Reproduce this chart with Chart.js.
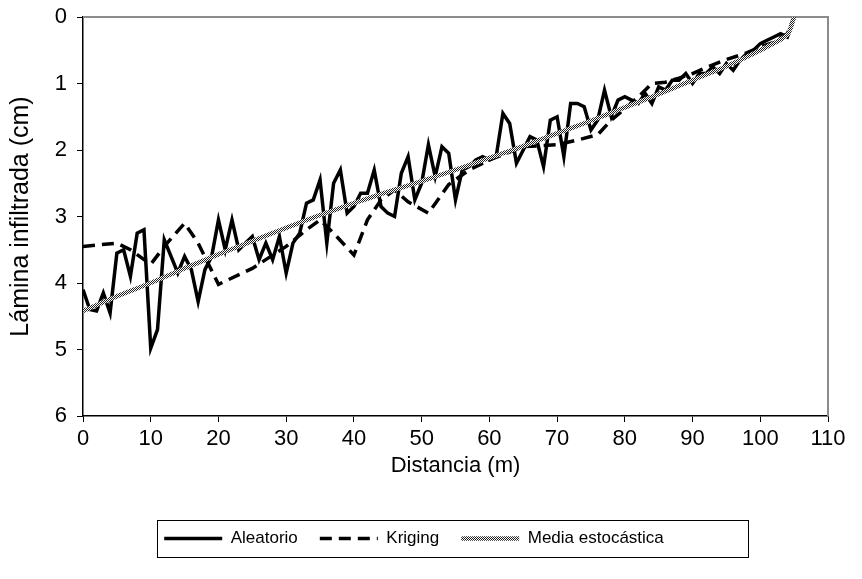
<!DOCTYPE html>
<html>
<head>
<meta charset="utf-8">
<script src="https://cdn.jsdelivr.net/npm/chart.js@4/dist/chart.umd.min.js"></script>
<style>
html,body{margin:0;padding:0;background:#fff;}
#wrap{width:862px;height:579px;position:relative;}
</style>
</head>
<body>
<div id="wrap"><canvas id="c" width="862" height="579"></canvas></div>
<script>
// ---- data ----
const aleatorioDist = [0,1,2,3,4,5,6,7,8,9,10,11,12,13,14,15,16,17,18,19,20,21,22,23,24,25,26,27,28,29,30,31,32,33,34,35,36,37,38,39,40,41,42,43,44,45,46,47,48,49,50,51,52,53,54,55,56,57,58,59,60,61,62,63,64,65,66,67,68,69,70,71,72,73,74,75,76,77,78,79,80,81,82,83,84,85,86,87,88,89,90,91,92,93,94,95,96,97,98,99,100,101,102,103,104,105];
const aleatorioVals = [4.1,4.4,4.42,4.15,4.45,3.55,3.5,3.9,3.25,3.2,4.98,4.7,3.35,3.6,3.85,3.6,3.8,4.28,3.8,3.6,3.05,3.5,3.05,3.5,3.4,3.3,3.65,3.4,3.65,3.3,3.85,3.4,3.25,2.8,2.75,2.45,3.4,2.5,2.3,2.95,2.85,2.65,2.65,2.3,2.85,2.95,3.0,2.35,2.1,2.75,2.5,1.92,2.4,1.95,2.05,2.75,2.3,2.25,2.15,2.1,2.15,2.1,1.45,1.6,2.2,2.0,1.8,1.85,2.25,1.55,1.5,2.1,1.3,1.3,1.35,1.7,1.55,1.1,1.5,1.25,1.2,1.25,1.3,1.15,1.3,1.05,1.1,0.95,0.95,0.85,1.0,0.85,0.85,0.75,0.85,0.7,0.8,0.65,0.55,0.5,0.4,0.35,0.3,0.25,0.3,0.0];

const krigingDist = [0,5,7,10,12,15,17,20,25,30,33,35,37,40,42,44,46,48,51,54,57,60,65,70,73,76,78,80,82,84,86,88,90,92,95,98,100,102,104,105];
const krigingVals = [3.45,3.4,3.5,3.72,3.45,3.1,3.4,4.02,3.78,3.45,3.2,3.05,3.25,3.58,3.05,2.75,2.6,2.78,2.95,2.52,2.3,2.15,1.95,1.92,1.85,1.77,1.55,1.38,1.2,1.0,0.98,0.92,0.85,0.76,0.64,0.54,0.45,0.38,0.25,0.0];

const mediaDist = [0,5,10,15,20,25,30,35,40,45,50,55,60,65,70,75,80,85,90,95,100,104,105];
const mediaVals = [4.42,4.2,4.0,3.78,3.57,3.37,3.17,2.98,2.8,2.63,2.47,2.3,2.12,1.94,1.75,1.56,1.36,1.16,0.95,0.74,0.5,0.27,0.0];

const xTicks = [0,10,20,30,40,50,60,70,80,90,100,110];
const yTicks = [0,1,2,3,4,5,6];
const seriesNames = ['Aleatorio','Kriging','Media estocástica'];
const xTitle = 'Distancia (m)';
const yTitle = 'Lámina infiltrada (cm)';

function pts(xs, ys){ return xs.map((x,i)=>({x:x, y:ys[i]})); }

// checkered pattern for the stochastic mean line
function makePattern(){
  const p = document.createElement('canvas');
  p.width = 2; p.height = 2;
  const g = p.getContext('2d');
  g.fillStyle = '#ffffff'; g.fillRect(0,0,2,2);
  g.fillStyle = '#202020'; g.fillRect(0,0,1,1); g.fillRect(1,1,1,1);
  return g.createPattern(p,'repeat');
}
const stripe = makePattern();

const FONT = '"Liberation Sans", Arial, sans-serif';

const framePlugin = {
  id:'frame',
  beforeDatasetsDraw(chart){
    const a = chart.chartArea, ctx = chart.ctx;
    ctx.save();
    ctx.strokeStyle = '#8c8c8c';
    ctx.lineWidth = 2;
    ctx.beginPath();
    ctx.moveTo(a.left, a.top); ctx.lineTo(a.right, a.top); ctx.lineTo(a.right, a.bottom);
    ctx.stroke();
    ctx.restore();
  },
  afterDraw(chart){
    const lg = chart.legend;
    if(!lg || !lg.legendHitBoxes || !lg.legendHitBoxes.length) return;
    const hb = lg.legendHitBoxes;
    let l = Infinity, r = -Infinity, t = Infinity, b = -Infinity;
    hb.forEach(h=>{ l=Math.min(l,h.left); r=Math.max(r,h.left+h.width); t=Math.min(t,h.top); b=Math.max(b,h.top+h.height); });
    const ctx = chart.ctx;
    const bl = Math.min(Math.round(l-7), 157)+0.5;
    const br = Math.max(Math.round(r+7), 748)+0.5;
    ctx.save();
    ctx.strokeStyle = '#000';
    ctx.lineWidth = 1;
    ctx.strokeRect(bl, Math.round(t-10)+0.5, br-bl, Math.round(b-t+20));
    ctx.restore();
  }
};

new Chart(document.getElementById('c'), {
  type:'line',
  data:{
    datasets:[
      {label:seriesNames[0], data:pts(aleatorioDist, aleatorioVals), borderColor:'#000', backgroundColor:'#000', borderWidth:3.5, pointRadius:0, tension:0, order:2},
      {label:seriesNames[1], data:pts(krigingDist, krigingVals), borderColor:'#000', backgroundColor:'#000', borderWidth:3.5, borderDash:[12,7], pointRadius:0, tension:0, order:1},
      {label:seriesNames[2], data:pts(mediaDist, mediaVals), borderColor:stripe, backgroundColor:stripe, borderWidth:4.5, pointRadius:0, tension:0.2, order:0}
    ]
  },
  options:{
    responsive:false,
    animation:false,
    layout:{padding:{left:0,right:34,top:17,bottom:22}},
    plugins:{
      tooltip:{enabled:false},
      legend:{
        position:'bottom',
        labels:{
          usePointStyle:true, pointStyle:'line', pointStyleWidth:58,
          color:'#000', font:{family:FONT, size:17}, padding:22,
          sort:(a,b)=>a.datasetIndex-b.datasetIndex,
          generateLabels(chart){
            return chart.data.datasets.map((ds,i)=>({
              text:ds.label, datasetIndex:i, pointStyle:'line',
              strokeStyle:ds.borderColor, fillStyle:ds.borderColor,
              lineWidth:ds.borderWidth, lineDash:ds.borderDash||[], lineCap:'butt',
              fontColor:'#000', hidden:false
            }));
          }
        }
      }
    },
    scales:{
      x:{
        type:'linear', min:0, max:110,
        afterBuildTicks(s){ s.ticks = xTicks.map(v=>({value:v})); },
        ticks:{color:'#000', font:{family:FONT, size:22}, padding:4, maxRotation:0, autoSkip:false},
        grid:{drawOnChartArea:false, drawTicks:true, tickLength:6, color:'#000', lineWidth:1},
        border:{color:'#000', width:1.5},
        title:{display:true, text:xTitle, color:'#000', font:{family:FONT, size:22}, padding:{top:4,bottom:29}},
        afterFit(s){ s.height = 92; }
      },
      y:{
        type:'linear', min:0, max:6, reverse:true,
        afterBuildTicks(s){ s.ticks = yTicks.map(v=>({value:v})); },
        ticks:{color:'#000', font:{family:FONT, size:22}, padding:10},
        grid:{drawOnChartArea:false, drawTicks:true, tickLength:6, color:'#000', lineWidth:1},
        border:{color:'#000', width:1.5},
        title:{display:true, text:yTitle, color:'#000', font:{family:FONT, size:25}, padding:{top:6,bottom:2}},
        afterFit(s){ s.width = 83; s.paddingTop = 0; s.paddingBottom = 0; }
      }
    }
  },
  plugins:[framePlugin]
});
</script>
</body>
</html>
